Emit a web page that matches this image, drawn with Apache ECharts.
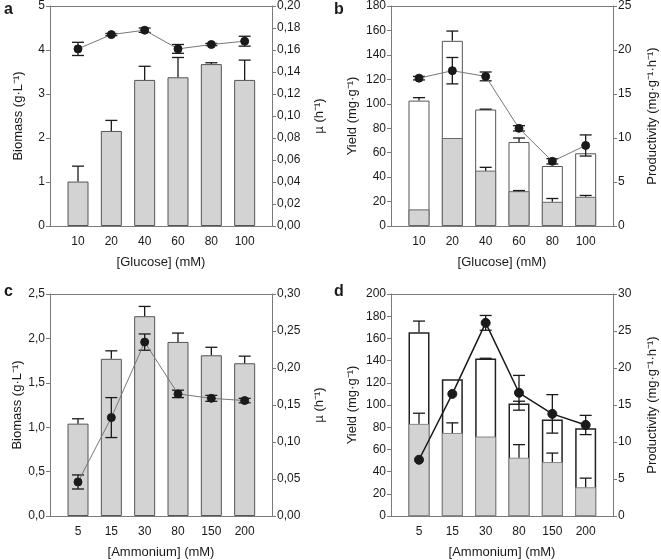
<!DOCTYPE html>
<html><head><meta charset="utf-8">
<script src="https://cdn.jsdelivr.net/npm/echarts@6/dist/echarts.min.js"></script>
<style>html,body{margin:0;padding:0;background:#fff}#c{width:661px;height:560px}</style>
</head><body><div id="c"></div>
<script>
const catsGlucose = ['10','20','40','60','80','100'];
const catsAmmonium = ['5','15','30','80','150','200'];

// Panel a
const aBiomass = [1.01, 2.16, 3.32, 3.38, 3.68, 3.32];
const aBiomassErr = [0.35, 0.24, 0.31, 0.45, 0.03, 0.45];
const aMu = [0.161, 0.174, 0.178, 0.161, 0.165, 0.168];
const aMuErr = [0.006, 0.001, 0.002, 0.004, 0.001, 0.0045];

// Panel b
const bYieldTotal = [102.6, 151.5, 95.3, 68.7, 49.1, 59.5];
const bYieldTotalErr = [2.4, 8, 0.3, 3.3, 0, 0];
const bYieldGray = [13.6, 72.0, 45.3, 28.5, 19.8, 23.9];
const bYieldGrayErr = [0, 0, 2.7, 0.5, 2.7, 1.1];
const bProd = [16.8, 17.65, 17.0, 11.1, 7.35, 9.15];
const bProdErr = [0.2, 1.5, 0.5, 0.3, 0.3, 1.2];

// Panel c
const cBiomass = [1.04, 1.77, 2.25, 1.96, 1.81, 1.72];
const cBiomassErr = [0.055, 0.09, 0.11, 0.10, 0.09, 0.08];
const cMu = [0.046, 0.133, 0.235, 0.165, 0.159, 0.156];
const cMuErr = [0.0095, 0.027, 0.011, 0.005, 0.004, 0.003];

// Panel d
const dYieldTotal = [165.6, 123.1, 141.8, 101.4, 86.9, 79.0];
const dYieldTotalErr = [10, 0, 0.3, 2, 0, 0];
const dYieldGray = [83, 74.8, 71.6, 52.5, 48.6, 25.9];
const dYieldGrayErr = [9.6, 9.1, 0, 11.8, 8.1, 8.2];
const dProd = [7.6, 16.5, 26.1, 16.65, 13.8, 12.3];
const dProdErr = [0, 0, 1, 2.35, 2.6, 1.3];

const FONT = '"Liberation Sans", Arial, sans-serif';
const AXC = '#7a7a7a';
const TXT = '#1a1a1a';

const grids = [
  {left: 50, top: 5, width: 222, height: 221},
  {left: 391, top: 5, width: 222, height: 221},
  {left: 50, top: 294, width: 222, height: 222},
  {left: 391, top: 294, width: 222, height: 222}
];

function comma(d){ return v => v.toFixed(d).replace('.', ','); }

const xAxes = [], yAxes = [];
const xNames = ['[Glucose] (mM)', '[Glucose] (mM)', '[Ammonium] (mM)', '[Ammonium] (mM)'];
const xCats = [catsGlucose, catsGlucose, catsAmmonium, catsAmmonium];
for (let g = 0; g < 4; g++) {
  const cats = xCats[g];
  xAxes.push({
    type: 'value', gridIndex: g, min: -0.84, max: 5.82,
    name: xNames[g], nameLocation: 'middle', nameGap: 30,
    nameTextStyle: {fontFamily: FONT, fontSize: 13, color: TXT},
    axisLine: {show: true, onZero: false, lineStyle: {color: AXC, width: 1}},
    axisTick: {show: false},
    splitLine: {show: false},
    axisLabel: {customValues: [0,1,2,3,4,5], formatter: v => cats[Math.round(v)], fontFamily: FONT, fontSize: 12, color: TXT, margin: 10}
  });
}
for (let g = 0; g < 4; g++) {
  xAxes.push({
    type: 'value', gridIndex: g, position: 'top', min: -0.84, max: 5.82,
    axisLine: {show: true, onZero: false, lineStyle: {color: AXC, width: 1}},
    axisTick: {show: false}, axisLabel: {show: false}, splitLine: {show: false}
  });
}

function yAx(g, side, min, max, interval, fmt, name, gap) {
  return {
    type: 'value', gridIndex: g, position: side, min, max, interval,
    name, nameLocation: 'middle', nameGap: gap, nameRotate: 90,
    nameTextStyle: {fontFamily: FONT, fontSize: 13, color: TXT},
    axisLine: {show: true, onZero: false, lineStyle: {color: AXC, width: 1}},
    axisTick: {show: true, inside: false, length: 4, lineStyle: {color: AXC}},
    splitLine: {show: false},
    axisLabel: {formatter: fmt, fontFamily: FONT, fontSize: 12, color: TXT, margin: 5}
  };
}
yAxes.push(yAx(0, 'left', 0, 5, 1, v => String(v), 'Biomass (g·L⁻¹)', 25));
yAxes.push(yAx(0, 'right', 0, 0.2, 0.02, comma(2), 'µ (h⁻¹)', 41));
yAxes.push(yAx(1, 'left', 0, 180, 20, v => String(v), 'Yield (mg·g⁻¹)', 32));
yAxes.push(yAx(1, 'right', 0, 25, 5, v => String(v), 'Productivity (mg·g⁻¹·h⁻¹)', 33));
yAxes.push(yAx(2, 'left', 0, 2.5, 0.5, comma(1), 'Biomass (g·L⁻¹)', 25));
yAxes.push(yAx(2, 'right', 0, 0.3, 0.05, comma(2), 'µ (h⁻¹)', 41));
yAxes.push(yAx(3, 'left', 0, 200, 20, v => String(v), 'Yield (mg·g⁻¹)', 32));
yAxes.push(yAx(3, 'right', 0, 30, 5, v => String(v), 'Productivity (mg·g⁻¹·h⁻¹)', 33));

const pts = arr => arr.map((v, i) => [i, v]);

function barSeries(g, yi, vals, color, border, bw) {
  return {
    type: 'bar', xAxisIndex: g, yAxisIndex: yi, data: pts(vals), barWidth: 21, barGap: '-100%',
    itemStyle: {color, borderColor: border, borderWidth: bw}, z: 2, silent: true
  };
}
function lineSeries(g, yi, vals, lc, lw, ms) {
  return {
    type: 'line', xAxisIndex: g, yAxisIndex: yi, data: pts(vals),
    lineStyle: {color: lc, width: lw}, symbol: 'circle', symbolSize: ms,
    itemStyle: {color: '#1a1a1a', borderColor: '#1a1a1a'}, z: 5, silent: true
  };
}
function errSeries(g, yi, vals, errs, both, cap) {
  const data = [];
  vals.forEach((v, i) => {
    const e = errs[i];
    if (e > 0) data.push([i, both ? v - e : v, v + e]);
  });
  return {
    type: 'custom', xAxisIndex: g, yAxisIndex: yi, data, z: both ? 4 : 3, silent: true,
    encode: {x: 0, y: [1, 2]},
    renderItem: (params, api) => {
      const x = api.value(0);
      const p1 = api.coord([x, api.value(1)]);
      const p2 = api.coord([x, api.value(2)]);
      const st = {stroke: '#1a1a1a', lineWidth: 1.3};
      const ch = [
        {type: 'line', shape: {x1: p1[0], y1: p1[1], x2: p2[0], y2: p2[1]}, style: st},
        {type: 'line', shape: {x1: p2[0] - cap, y1: p2[1], x2: p2[0] + cap, y2: p2[1]}, style: st}
      ];
      if (both) ch.push({type: 'line', shape: {x1: p1[0] - cap, y1: p1[1], x2: p1[0] + cap, y2: p1[1]}, style: st});
      return {type: 'group', children: ch};
    }
  };
}

const GRAY = '#d3d3d3';
const series = [
  // a
  barSeries(0, 0, aBiomass, GRAY, '#555', 1),
  errSeries(0, 0, aBiomass, aBiomassErr, false, 6),
  lineSeries(0, 1, aMu, '#777', 1, 8),
  errSeries(0, 1, aMu, aMuErr, true, 6),
  // b
  barSeries(1, 2, bYieldTotal, '#fff', '#555', 1),
  barSeries(1, 2, bYieldGray, GRAY, '#666', 1),
  errSeries(1, 2, bYieldTotal, bYieldTotalErr, false, 6),
  errSeries(1, 2, bYieldGray, bYieldGrayErr, false, 6),
  lineSeries(1, 3, bProd, '#777', 1, 8),
  errSeries(1, 3, bProd, bProdErr, true, 6),
  // c
  barSeries(2, 4, cBiomass, GRAY, '#555', 1),
  errSeries(2, 4, cBiomass, cBiomassErr, false, 6),
  lineSeries(2, 5, cMu, '#777', 1, 8),
  errSeries(2, 5, cMu, cMuErr, true, 6),
  // d
  barSeries(3, 6, dYieldTotal, '#fff', '#222', 1.5),
  barSeries(3, 6, dYieldGray, GRAY, '#888', 1),
  errSeries(3, 6, dYieldTotal, dYieldTotalErr, false, 6),
  errSeries(3, 6, dYieldGray, dYieldGrayErr, false, 6),
  lineSeries(3, 7, dProd, '#1a1a1a', 1.5, 9),
  errSeries(3, 7, dProd, dProdErr, true, 6)
];

const letters = [['a', 4, 2], ['b', 334, 2], ['c', 4, 284], ['d', 334, 284]];
const title = letters.map(([t, l, tp]) => ({text: t, left: l, top: tp, padding: 0,
  textStyle: {fontFamily: FONT, fontSize: 16, fontWeight: 'bold', color: TXT}}));

const chart = echarts.init(document.getElementById('c'), null, {renderer: 'canvas'});
chart.setOption({
  animation: false,
  backgroundColor: '#fff',
  title,
  grid: grids,
  xAxis: xAxes,
  yAxis: yAxes,
  series
});
</script></body></html>
